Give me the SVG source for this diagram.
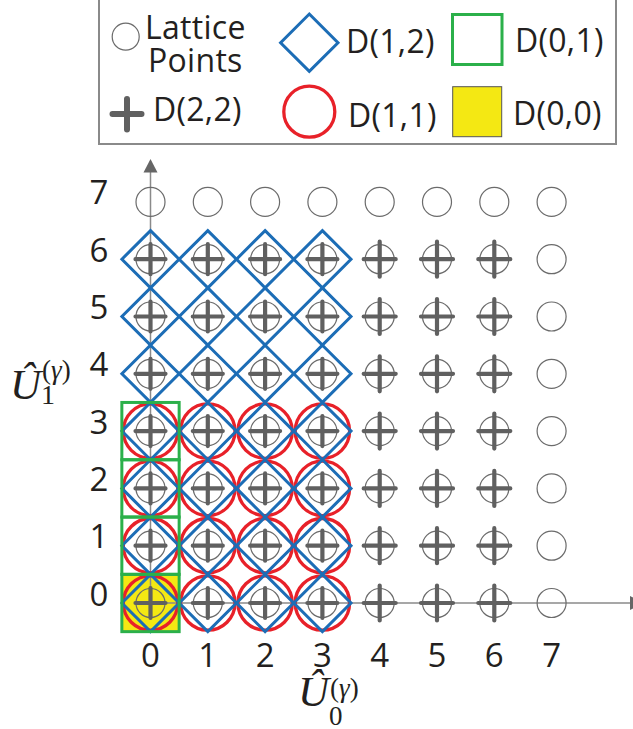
<svg xmlns="http://www.w3.org/2000/svg" xmlns:xlink="http://www.w3.org/1999/xlink" width="633" height="729" viewBox="0 0 633 729">
<style>
.lat{fill:none;stroke:#6b6b6b;stroke-width:1.2}
.crs{stroke:#606060;stroke-width:4.2;stroke-linecap:round;fill:none}
.crsL{stroke:#606060;stroke-width:6;stroke-linecap:round;fill:none}
.red{fill:none;stroke:#e82129;stroke-width:3.3}
.dia{fill:none;stroke:#1c6db6;stroke-width:3}
.grn{fill:none;stroke:#2bb04a;stroke-width:3}
.yel{fill:#f4e813}
.axis{stroke:#8a8a8a;stroke-width:1.5;fill:none}
.arr{fill:#666666}
.lbl{font-family:"Open Sans","Noto Sans",sans-serif;font-size:32px;letter-spacing:0.3px;fill:#231f20}
.tick{font-family:"Open Sans","Noto Sans",sans-serif;font-size:33px;fill:#231f20;text-anchor:middle}
.math{font-family:"Liberation Serif",serif;font-style:italic;fill:#231f20}
.up{font-style:normal}
</style>
<defs>
<circle id="lat" r="14.5" class="lat"/>
<path id="crs" class="crs" d="M-15,0H15M0,-15V15"/>
<path id="crs2" class="crs" d="M-16,0H16M0,-17.5V17.5"/>
<circle id="red" r="27.2" class="red"/>
<path id="dia" class="dia" d="M0,-28.6L28.6,0L0,28.6L-28.6,0Z"/>
<rect id="grn" class="grn" x="-28.65" y="-28.65" width="57.3" height="57.3"/>
</defs>

<g id="legend">
<rect x="99" y="-1" width="517" height="145" fill="#ffffff" stroke="#8a8a8a" stroke-width="2"/>
<circle cx="125.7" cy="36.7" r="13.5" class="lat"/>
<text class="lbl" x="145" y="39">Lattice</text>
<text class="lbl" x="148" y="72">Points</text>
<path class="dia" d="M309.3,14L338,42.7L309.3,71.4L280.6,42.7Z"/>
<text class="lbl" x="346" y="53">D(1,2)</text>
<rect class="grn" x="452.5" y="14.5" width="49.5" height="50"/>
<text class="lbl" x="515" y="52">D(0,1)</text>
<path class="crsL" d="M112.5,114H141.5M127,99V129.5"/>
<text class="lbl" x="153" y="121">D(2,2)</text>
<circle class="red" cx="309.3" cy="111.7" r="25.5"/>
<text class="lbl" x="348" y="127">D(1,1)</text>
<rect class="yel" x="452.7" y="86.7" width="49" height="50" stroke="#555555" stroke-width="1"/>
<text class="lbl" x="513" y="125">D(0,0)</text>
</g>

<g id="region-D00">
<rect class="yel" x="121.85" y="574.35" width="57.3" height="57.3"/>
</g>

<g id="connectors">
<line class="axis" x1="150.5" y1="603" x2="150.5" y2="171"/>
<path class="arr" d="M150.5,159L157.5,172.5H143.5Z"/>
<line class="axis" x1="150.5" y1="603" x2="631" y2="603"/>
<path class="arr" d="M644,603L630,596V610Z"/>
</g>

<g id="region-D11">
<use href="#red" x="150.5" y="603"/><use href="#red" x="207.8" y="603"/><use href="#red" x="265.1" y="603"/><use href="#red" x="322.4" y="603"/>
<use href="#red" x="150.5" y="545.7"/><use href="#red" x="207.8" y="545.7"/><use href="#red" x="265.1" y="545.7"/><use href="#red" x="322.4" y="545.7"/>
<use href="#red" x="150.5" y="488.4"/><use href="#red" x="207.8" y="488.4"/><use href="#red" x="265.1" y="488.4"/><use href="#red" x="322.4" y="488.4"/>
<use href="#red" x="150.5" y="431.1"/><use href="#red" x="207.8" y="431.1"/><use href="#red" x="265.1" y="431.1"/><use href="#red" x="322.4" y="431.1"/>
</g>

<g id="region-D12">
<use href="#dia" x="150.5" y="603"/><use href="#dia" x="207.8" y="603"/><use href="#dia" x="265.1" y="603"/><use href="#dia" x="322.4" y="603"/>
<use href="#dia" x="150.5" y="545.7"/><use href="#dia" x="207.8" y="545.7"/><use href="#dia" x="265.1" y="545.7"/><use href="#dia" x="322.4" y="545.7"/>
<use href="#dia" x="150.5" y="488.4"/><use href="#dia" x="207.8" y="488.4"/><use href="#dia" x="265.1" y="488.4"/><use href="#dia" x="322.4" y="488.4"/>
<use href="#dia" x="150.5" y="431.1"/><use href="#dia" x="207.8" y="431.1"/><use href="#dia" x="265.1" y="431.1"/><use href="#dia" x="322.4" y="431.1"/>
<use href="#dia" x="150.5" y="373.8"/><use href="#dia" x="207.8" y="373.8"/><use href="#dia" x="265.1" y="373.8"/><use href="#dia" x="322.4" y="373.8"/>
<use href="#dia" x="150.5" y="316.5"/><use href="#dia" x="207.8" y="316.5"/><use href="#dia" x="265.1" y="316.5"/><use href="#dia" x="322.4" y="316.5"/>
<use href="#dia" x="150.5" y="259.2"/><use href="#dia" x="207.8" y="259.2"/><use href="#dia" x="265.1" y="259.2"/><use href="#dia" x="322.4" y="259.2"/>
</g>

<g id="region-D01">
<use href="#grn" x="150.5" y="603"/><use href="#grn" x="150.5" y="545.7"/><use href="#grn" x="150.5" y="488.4"/><use href="#grn" x="150.5" y="431.1"/>
</g>

<g id="points">
<g id="p00" transform="translate(150.5,603)"><use href="#lat"/><use href="#crs"/></g>
<g id="p10" transform="translate(207.8,603)"><use href="#lat"/><use href="#crs"/></g>
<g id="p20" transform="translate(265.1,603)"><use href="#lat"/><use href="#crs"/></g>
<g id="p30" transform="translate(322.4,603)"><use href="#lat"/><use href="#crs"/></g>
<g id="p40" transform="translate(379.7,603)"><use href="#lat"/><use href="#crs2"/></g>
<g id="p50" transform="translate(437,603)"><use href="#lat"/><use href="#crs2"/></g>
<g id="p60" transform="translate(494.3,603)"><use href="#lat"/><use href="#crs2"/></g>
<g id="p70" transform="translate(551.6,603)"><use href="#lat"/></g>

<g id="p01" transform="translate(150.5,545.7)"><use href="#lat"/><use href="#crs"/></g>
<g id="p11" transform="translate(207.8,545.7)"><use href="#lat"/><use href="#crs"/></g>
<g id="p21" transform="translate(265.1,545.7)"><use href="#lat"/><use href="#crs"/></g>
<g id="p31" transform="translate(322.4,545.7)"><use href="#lat"/><use href="#crs"/></g>
<g id="p41" transform="translate(379.7,545.7)"><use href="#lat"/><use href="#crs2"/></g>
<g id="p51" transform="translate(437,545.7)"><use href="#lat"/><use href="#crs2"/></g>
<g id="p61" transform="translate(494.3,545.7)"><use href="#lat"/><use href="#crs2"/></g>
<g id="p71" transform="translate(551.6,545.7)"><use href="#lat"/></g>

<g id="p02" transform="translate(150.5,488.4)"><use href="#lat"/><use href="#crs"/></g>
<g id="p12" transform="translate(207.8,488.4)"><use href="#lat"/><use href="#crs"/></g>
<g id="p22" transform="translate(265.1,488.4)"><use href="#lat"/><use href="#crs"/></g>
<g id="p32" transform="translate(322.4,488.4)"><use href="#lat"/><use href="#crs"/></g>
<g id="p42" transform="translate(379.7,488.4)"><use href="#lat"/><use href="#crs2"/></g>
<g id="p52" transform="translate(437,488.4)"><use href="#lat"/><use href="#crs2"/></g>
<g id="p62" transform="translate(494.3,488.4)"><use href="#lat"/><use href="#crs2"/></g>
<g id="p72" transform="translate(551.6,488.4)"><use href="#lat"/></g>

<g id="p03" transform="translate(150.5,431.1)"><use href="#lat"/><use href="#crs"/></g>
<g id="p13" transform="translate(207.8,431.1)"><use href="#lat"/><use href="#crs"/></g>
<g id="p23" transform="translate(265.1,431.1)"><use href="#lat"/><use href="#crs"/></g>
<g id="p33" transform="translate(322.4,431.1)"><use href="#lat"/><use href="#crs"/></g>
<g id="p43" transform="translate(379.7,431.1)"><use href="#lat"/><use href="#crs2"/></g>
<g id="p53" transform="translate(437,431.1)"><use href="#lat"/><use href="#crs2"/></g>
<g id="p63" transform="translate(494.3,431.1)"><use href="#lat"/><use href="#crs2"/></g>
<g id="p73" transform="translate(551.6,431.1)"><use href="#lat"/></g>

<g id="p04" transform="translate(150.5,373.8)"><use href="#lat"/><use href="#crs"/></g>
<g id="p14" transform="translate(207.8,373.8)"><use href="#lat"/><use href="#crs"/></g>
<g id="p24" transform="translate(265.1,373.8)"><use href="#lat"/><use href="#crs"/></g>
<g id="p34" transform="translate(322.4,373.8)"><use href="#lat"/><use href="#crs"/></g>
<g id="p44" transform="translate(379.7,373.8)"><use href="#lat"/><use href="#crs2"/></g>
<g id="p54" transform="translate(437,373.8)"><use href="#lat"/><use href="#crs2"/></g>
<g id="p64" transform="translate(494.3,373.8)"><use href="#lat"/><use href="#crs2"/></g>
<g id="p74" transform="translate(551.6,373.8)"><use href="#lat"/></g>

<g id="p05" transform="translate(150.5,316.5)"><use href="#lat"/><use href="#crs"/></g>
<g id="p15" transform="translate(207.8,316.5)"><use href="#lat"/><use href="#crs"/></g>
<g id="p25" transform="translate(265.1,316.5)"><use href="#lat"/><use href="#crs"/></g>
<g id="p35" transform="translate(322.4,316.5)"><use href="#lat"/><use href="#crs"/></g>
<g id="p45" transform="translate(379.7,316.5)"><use href="#lat"/><use href="#crs2"/></g>
<g id="p55" transform="translate(437,316.5)"><use href="#lat"/><use href="#crs2"/></g>
<g id="p65" transform="translate(494.3,316.5)"><use href="#lat"/><use href="#crs2"/></g>
<g id="p75" transform="translate(551.6,316.5)"><use href="#lat"/></g>

<g id="p06" transform="translate(150.5,259.2)"><use href="#lat"/><use href="#crs"/></g>
<g id="p16" transform="translate(207.8,259.2)"><use href="#lat"/><use href="#crs"/></g>
<g id="p26" transform="translate(265.1,259.2)"><use href="#lat"/><use href="#crs"/></g>
<g id="p36" transform="translate(322.4,259.2)"><use href="#lat"/><use href="#crs"/></g>
<g id="p46" transform="translate(379.7,259.2)"><use href="#lat"/><use href="#crs2"/></g>
<g id="p56" transform="translate(437,259.2)"><use href="#lat"/><use href="#crs2"/></g>
<g id="p66" transform="translate(494.3,259.2)"><use href="#lat"/><use href="#crs2"/></g>
<g id="p76" transform="translate(551.6,259.2)"><use href="#lat"/></g>

<g id="p07" transform="translate(150.5,201.9)"><use href="#lat"/></g>
<g id="p17" transform="translate(207.8,201.9)"><use href="#lat"/></g>
<g id="p27" transform="translate(265.1,201.9)"><use href="#lat"/></g>
<g id="p37" transform="translate(322.4,201.9)"><use href="#lat"/></g>
<g id="p47" transform="translate(379.7,201.9)"><use href="#lat"/></g>
<g id="p57" transform="translate(437,201.9)"><use href="#lat"/></g>
<g id="p67" transform="translate(494.3,201.9)"><use href="#lat"/></g>
<g id="p77" transform="translate(551.6,201.9)"><use href="#lat"/></g>
</g>

<g id="y-ticks">
<text class="tick" x="99" y="605.5">0</text>
<text class="tick" x="99" y="548.2">1</text>
<text class="tick" x="99" y="490.9">2</text>
<text class="tick" x="99" y="433.6">3</text>
<text class="tick" x="99" y="376.3">4</text>
<text class="tick" x="99" y="319">5</text>
<text class="tick" x="99" y="261.7">6</text>
<text class="tick" x="99" y="204.4">7</text>
</g>
<g id="x-ticks">
<text class="tick" x="150.5" y="667">0</text>
<text class="tick" x="207.8" y="667">1</text>
<text class="tick" x="265.1" y="667">2</text>
<text class="tick" x="322.4" y="667">3</text>
<text class="tick" x="379.7" y="667">4</text>
<text class="tick" x="437" y="667">5</text>
<text class="tick" x="494.3" y="667">6</text>
<text class="tick" x="551.6" y="667">7</text>
</g>

<g id="y-label">
<text class="math" x="10" y="399" font-size="43">Û</text>
<text class="math" x="42" y="379" font-size="27"><tspan class="up">(</tspan>γ<tspan class="up">)</tspan></text>
<text class="math up" x="41" y="404" font-size="28">1</text>
</g>
<g id="x-label">
<text class="math" x="298" y="706" font-size="43">Û</text>
<text class="math" x="330" y="697" font-size="27"><tspan class="up">(</tspan>γ<tspan class="up">)</tspan></text>
<text class="math up" x="329" y="725" font-size="27">0</text>
</g>
</svg>
